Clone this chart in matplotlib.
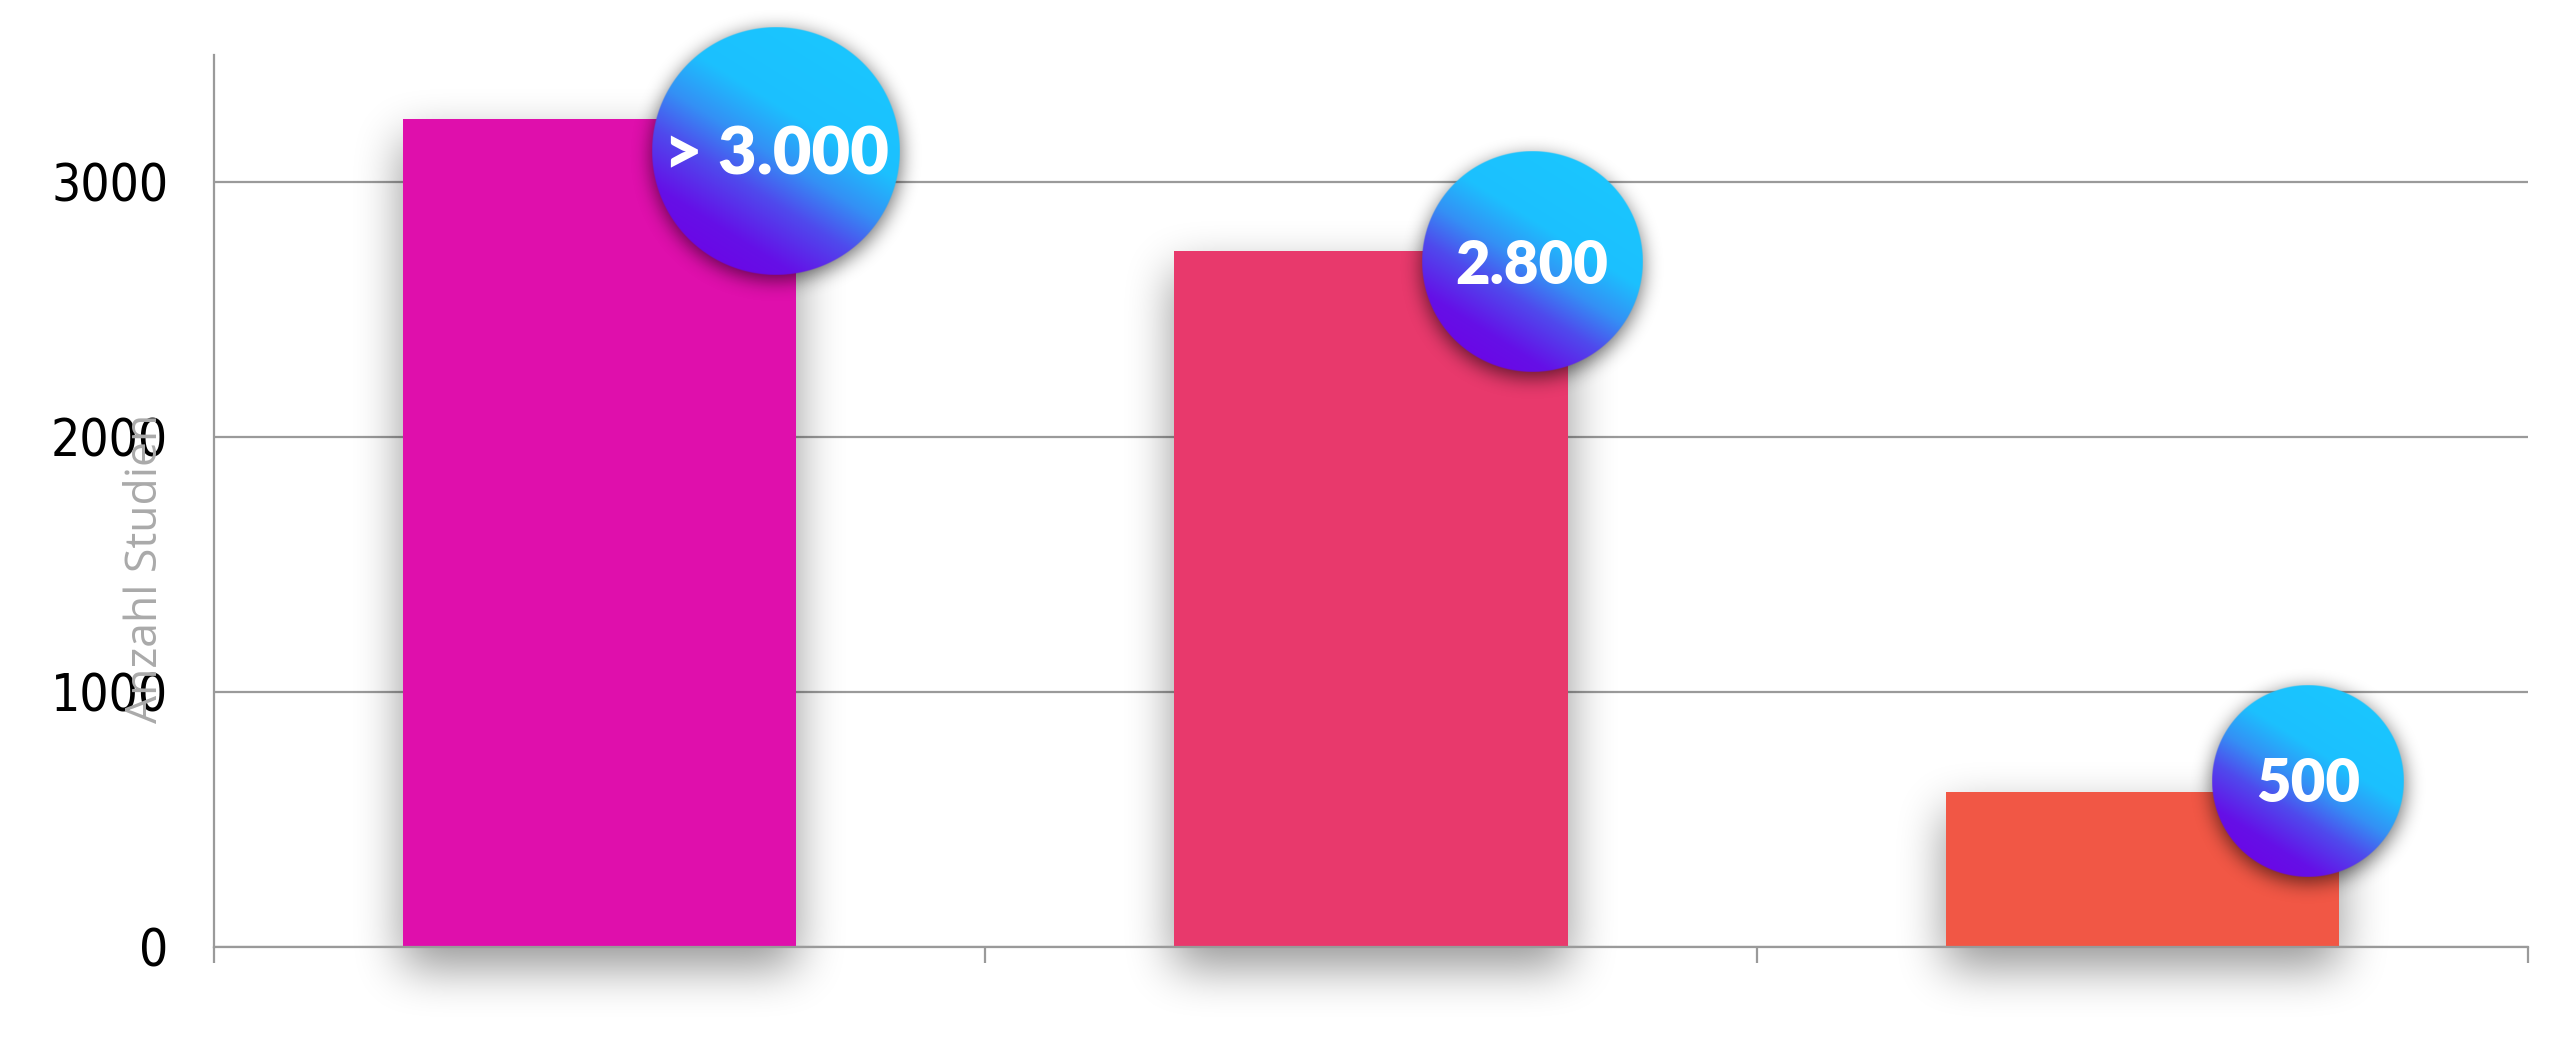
import numpy as np
import matplotlib
matplotlib.use("Agg")
import matplotlib.pyplot as plt
from matplotlib import font_manager
from matplotlib.colors import LinearSegmentedColormap

# Daten
kategorien = [0, 1, 2]
anzahl = [3250, 2730, 610]
beschriftung = ["> 3.000", "2.800", "500"]
y_ticks = [0, 1000, 2000, 3000]
y_tick_text = ["0", "1000", "2000", "3000"]

# Stil
balken_farben = ["#df0fac", "#e8396c", "#f15745"]
balken_breite = 0.51
kreis_dx = [0.229, 0.209, 0.215]   # Versatz zur Balkenmitte
kreis_y = [3125, 2686, 651]
kreis_r = [124, 110, 96]           # Radius in Pixel
kreis_schrift = [48, 43, 43]
grau = "#9a9a9a"

# schmale Schrift fuer die y-Achse suchen
schmal = None
for f in font_manager.fontManager.ttflist:
    name = f.name.lower()
    eng = "narrow" in name or "condensed" in name or str(f.stretch) in ("condensed", "semi-condensed", "extra-condensed")
    if eng and f.style == "normal" and str(f.weight) in ("400", "normal", "regular", "book"):
        if schmal is None or "liberation" in name:
            schmal = f.fname
if schmal:
    tick_font = font_manager.FontProperties(fname=schmal, size=37)
else:
    tick_font = font_manager.FontProperties(family="DejaVu Sans", size=37)

W, H = 2560, 1059
fig = plt.figure(figsize=(W / 100, H / 100), dpi=100)
fig.patch.set_facecolor("white")
ax = fig.add_axes([214 / W, 112 / H, 2314 / W, 892 / H])
ax.set_xlim(-0.5, 2.5)
ax.set_ylim(0, 3500)

ax.set_axisbelow(True)
ax.yaxis.grid(True, color=grau, linewidth=1.6)
for s in ["top", "right"]:
    ax.spines[s].set_visible(False)
for s in ["left", "bottom"]:
    ax.spines[s].set_color(grau)
    ax.spines[s].set_linewidth(1.6)

ax.set_xticks([-0.5, 0.5, 1.5, 2.5])
ax.set_xticklabels([])
ax.tick_params(axis="x", length=11.5, width=1.6, color=grau)
ax.set_yticks(y_ticks)
ax.set_yticklabels(y_tick_text, fontproperties=tick_font, color="black")
ax.tick_params(axis="y", length=0, pad=33)

ax.set_ylabel("Anzahl Studien", fontsize=32, color="#aaaaaa",
              family=["Open Sans", "DejaVu Sans"])
ax.yaxis.set_label_coords(-0.0294, 0.425)
ax.yaxis.label.set_va("center")

ax.bar(kategorien, anzahl, width=balken_breite, color=balken_farben, zorder=2)


def box(a, r, achse):
    a = np.moveaxis(a, achse, 0)
    p = np.pad(a, ((r + 1, r), (0, 0)), mode="constant")
    c = np.cumsum(p, axis=0)
    out = (c[2 * r + 1:] - c[:-2 * r - 1]) / (2 * r + 1)
    return np.moveaxis(out, 0, achse)


def verwischen(a, r, n=3):
    for _ in range(n):
        for achse in (0, 1):
            a = box(a, r, achse)
    return a


def pixel(x, y):
    return ax.transData.transform((x, y))


inv = ax.transData.inverted()
ex0, ey0 = inv.transform((0, 0))
ex1, ey1 = inv.transform((W, H))
yy, xx = np.mgrid[0:H, 0:W] + 0.5


def schatten(maske, r, staerke, z):
    rgba = np.zeros((H, W, 4))
    rgba[..., 3] = np.clip(staerke * verwischen(maske, r), 0, 1)
    ax.imshow(rgba, extent=[ex0, ex1, ey0, ey1], origin="lower", aspect="auto",
              zorder=z, clip_on=False, interpolation="nearest")


# Schatten der Balken
maske = np.zeros((H, W))
for x, h in zip(kategorien, anzahl):
    x0, y0 = pixel(x - balken_breite / 2, 0)
    x1, y1 = pixel(x + balken_breite / 2, h)
    maske[(xx >= x0) & (xx <= x1) & (yy >= y0 - 20) & (yy <= y1 - 20)] = 1
schatten(maske, 22, 0.42, 1)

# Kreise
mitten = []
maske = np.zeros((H, W))
for i, x in enumerate(kategorien):
    px, py = pixel(x + kreis_dx[i], kreis_y[i])
    mitten.append((px, py))
    maske[(xx - px) ** 2 + (yy - py + 5) ** 2 <= kreis_r[i] ** 2] = 1
schatten(maske, 9, 0.6, 3)

verlauf = LinearSegmentedColormap.from_list(
    "kreis", [(0, "#6a08e6"), (0.12, "#6510e7"), (0.32, "#4f4aed"),
              (0.48, "#3490f5"), (0.66, "#1cc0fe"), (1, "#1ac6ff")])
winkel = np.deg2rad(58)
for i, (px, py) in enumerate(mitten):
    r = kreis_r[i]
    n = 6 * r
    u, v = np.meshgrid(np.linspace(-1, 1, n), np.linspace(-1, 1, n))
    d = np.sqrt(u ** 2 + v ** 2)
    t = np.clip((u * np.cos(winkel) + v * np.sin(winkel) + 1) / 2, 0, 1)
    bild = verlauf(t)
    bild[..., 3] = np.clip((1 - d) * r + 0.5, 0, 1)
    bx0, by0 = inv.transform((px - r, py - r))
    bx1, by1 = inv.transform((px + r, py + r))
    ax.imshow(bild, extent=[bx0, bx1, by0, by1], origin="lower", aspect="auto",
              zorder=4, clip_on=False, interpolation="antialiased")
    fs = kreis_schrift[i]
    tx, ty = inv.transform((px, py - 0.358 * fs * 100 / 72))
    ax.text(tx, ty, beschriftung[i], ha="center", va="baseline", color="white",
            fontsize=fs, fontweight="heavy", family=["Lato", "DejaVu Sans"],
            zorder=5)

ax.set_xlim(-0.5, 2.5)
ax.set_ylim(0, 3500)

fig.savefig("out.png", dpi=100)
